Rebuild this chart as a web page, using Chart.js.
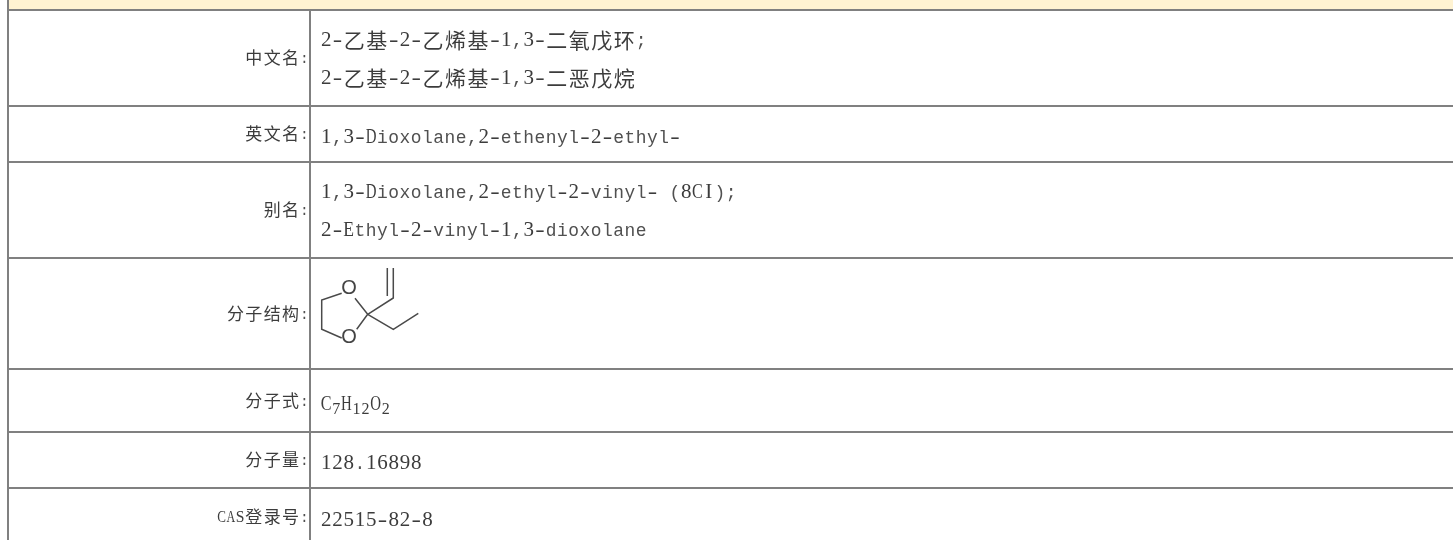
<!DOCTYPE html>
<html>
<head>
<meta charset="utf-8">
<style>
  html, body { margin: 0; padding: 0; background: #fff; overflow: hidden; }
  canvas { display: block; }
</style>
<script src="https://cdn.jsdelivr.net/npm/chart.js@4"></script>
</head>
<body>
<canvas id="propChart" width="1453" height="540"></canvas>
<script>
const categories = ['中文名:', '英文名:', '别名:', '分子结构:', '分子式:', '分子量:', 'CAS登录号:'];
const rowValues = [
  ['2-乙基-2-乙烯基-1,3-二氧戊环;', '2-乙基-2-乙烯基-1,3-二恶戊烷'],
  ['1,3-Dioxolane,2-ethenyl-2-ethyl-'],
  ['1,3-Dioxolane,2-ethyl-2-vinyl- (8CI);', '2-Ethyl-2-vinyl-1,3-dioxolane'],
  [],
  ['C₇H₁₂O₂'],
  ['128.16898'],
  ['22515-82-8']
];
// table rules
const rowEdges = [10, 106, 162, 258, 369, 432, 488, 546];
const columnEdges = [8, 310];
const headerBandX = [9, 1453];
const headerBandY = [9, 9];
// structure drawing, null = pen up
const bondX = [341.7, 321.7, 321.7, 341.7, null, 355, 367.7, 356.7, null, 367.7, 393.3, 393.3, null, 387.3, 387.3, null, 367.7, 393.3, 418.3];
const bondY = [293.3, 300, 329.3, 338, null, 298.3, 314.3, 329.3, null, 314.3, 298, 268, null, 296, 268, null, 314.3, 329.3, 313.3];
const atomLabels = ['O', 'O'];
const atomX = [349, 349];
const atomY = [288.5, 337];

const subDigits = { '₇': '7', '₁': '1', '₂': '2' };
const SERIF = '"Liberation Serif"';
const MONO = '"Liberation Mono"';
const CJK = '"Noto Sans CJK SC"';
const TEXT_COLOR = '#3c3c3c';

function isWide(ch) {
  return ch.charCodeAt(0) > 0x2e80 && !subDigits[ch];
}

// the source font is a fixed half/full width one, so place glyph by glyph.
// serif for digits and capitals, mono for the rest: closest to its tall narrow look
function drawRun(ctx, str, x, y, pitch, cjkSize, latinSize) {
  let pen = x;
  const base = y + latinSize * 0.34;
  for (const ch of str) {
    const sub = subDigits[ch];
    ctx.fillStyle = TEXT_COLOR;
    if (isWide(ch)) {
      ctx.textBaseline = 'middle';
      ctx.font = cjkSize + 'px ' + CJK;
      ctx.fillText(ch, pen + pitch, y);
      pen += pitch * 2;
      continue;
    }
    ctx.textBaseline = 'alphabetic';
    if (sub) {
      ctx.font = (latinSize - 3) + 'px ' + SERIF;
      ctx.fillText(sub, pen + pitch * 0.4, base + 4);
      pen += pitch * 0.8;
    } else if (ch === '-') {
      // the source hyphen nearly fills its cell
      ctx.save();
      ctx.translate(pen + pitch / 2, base);
      ctx.scale(1.35, 1);
      ctx.font = (latinSize + 2) + 'px ' + SERIF;
      ctx.fillText(ch, 0, 0);
      ctx.restore();
      pen += pitch;
    } else {
      const tall = /[0-9A-Z]/.test(ch);
      ctx.font = tall ? (latinSize + 2) + 'px ' + SERIF : latinSize + 'px ' + MONO;
      if (!tall) ctx.fillStyle = '#505050';
      ctx.fillText(ch, pen + pitch / 2, base, pitch - 0.5);
      pen += pitch;
    }
  }
}

function runWidth(str, pitch) {
  let w = 0;
  for (const ch of str) w += isWide(ch) ? pitch * 2 : pitch;
  return w;
}

const tableText = {
  id: 'tableText',
  afterDatasetsDraw(chart) {
    const { ctx, scales: { x, y } } = chart;
    ctx.save();
    ctx.filter = 'blur(0.3px)';
    ctx.textAlign = 'center';
    categories.forEach((label, i) => {
      const mid = (rowEdges[i] + rowEdges[i + 1]) / 2;
      const right = x.getPixelForValue(columnEdges[1]) - 1;
      drawRun(ctx, label, right - runWidth(label, 9.2), y.getPixelForValue(mid), 9.2, 17, 15);
      const lines = rowValues[i];
      lines.forEach((line, j) => {
        const offset = lines.length > 1 ? (j - 0.5) * 38 + 1 : 3;
        drawRun(ctx, line, x.getPixelForValue(columnEdges[1]) + 10.5, y.getPixelForValue(mid + offset), 11.25, 21, 19);
      });
    });
    ctx.textBaseline = 'middle';
    ctx.font = '20px "Liberation Sans"';
    ctx.fillStyle = '#444';
    atomLabels.forEach((a, i) => ctx.fillText(a, x.getPixelForValue(atomX[i]), y.getPixelForValue(atomY[i])));
    ctx.restore();
  }
};

new Chart(document.getElementById('propChart').getContext('2d'), {
  type: 'line',
  data: {
    datasets: [
      {
        label: 'header',
        data: headerBandX.map((v, i) => ({ x: v, y: headerBandY[i] })),
        borderWidth: 0,
        backgroundColor: '#fff3d2',
        fill: 'origin',
        pointRadius: 0
      },
      {
        label: 'structure',
        data: bondX.map((v, i) => ({ x: v, y: bondY[i] })),
        borderColor: '#4a4a4a',
        borderWidth: 1.5,
        pointRadius: 0,
        spanGaps: false,
        fill: false
      }
    ]
  },
  plugins: [tableText],
  options: {
    responsive: false,
    animation: false,
    layout: { padding: { left: 7 } },
    plugins: { legend: { display: false }, tooltip: { enabled: false } },
    scales: {
      x: {
        type: 'linear',
        min: 7,
        max: 1453,
        afterBuildTicks: s => { s.ticks = columnEdges.map(v => ({ value: v })); },
        ticks: { display: false },
        border: { display: false },
        grid: { color: '#808080', lineWidth: 2, drawTicks: false }
      },
      y: {
        type: 'linear',
        reverse: true,
        min: 0,
        max: 540,
        afterBuildTicks: s => { s.ticks = rowEdges.filter(v => v <= 540).map(v => ({ value: v })); },
        ticks: { display: false },
        border: { display: false },
        grid: { color: '#808080', lineWidth: 2, drawTicks: false }
      }
    }
  }
});
</script>
</body>
</html>
